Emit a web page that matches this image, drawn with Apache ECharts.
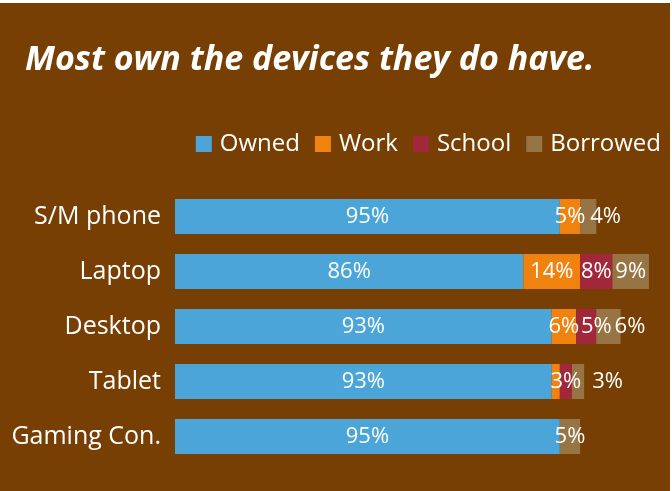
<!DOCTYPE html>
<html>
<head>
<meta charset="utf-8">
<script src="https://cdn.jsdelivr.net/npm/echarts@6/dist/echarts.min.js"></script>
<style>
  html, body { margin: 0; padding: 0; background: #ffffff; }
  #chart { position: absolute; left: 0; top: 3px; width: 670px; height: 488px; }
</style>
</head>
<body>
<div id="chart"></div>
<script>
// Device ownership breakdown (percent)
const devices = ['S/M phone', 'Laptop', 'Desktop', 'Tablet', 'Gaming Con.']
const owned = [95, 86, 93, 93, 95]
const work = [5, 14, 6, 2, 0]
const school = [0, 8, 5, 3, 0]
const borrowed = [4, 9, 6, 3, 5]

// label placement for crowded segments (null = centred inside)
const workShown = [true, true, true, false, false]
const schoolPos = [null, null, 'insideLeft', null, null]
const borrowedPos = ['right', null, 'right', 'right', null]
const borrowedDist = [-6, 0, -6, 8, 0]

const chart = echarts.init( document.getElementById( 'chart' ) )

const makeData = ( values, opts ) => values.map( ( v, i ) => {
  const item = { value : v }
  if ( v === 0 || ( opts.shown && !opts.shown[i] ) ) {
    item.label = { show : false }
  } else if ( opts.pos && opts.pos[i] ) {
    item.label = {
      position : opts.pos[i],
      distance : opts.dist ? opts.dist[i] : 5
    }
  }
  return item
} )

const makeSeries = ( name, values, color, opts = {} ) => ( {
  name : name,
  type : 'bar',
  stack : 'total',
  barWidth : 35,
  data : makeData( values, opts ),
  itemStyle : { color : color },
  label : {
    show : true,
    position : 'inside',
    formatter : '{c}%',
    color : '#ffffff',
    fontFamily : 'Open Sans',
    fontSize : 22
  }
} )

chart.setOption( {
  backgroundColor : '#773f03',
  animation : false,
  title : {
    text : 'Most own the devices they do have.',
    left : 20,
    top : 35,
    textStyle : {
      color : '#ffffff',
      fontFamily : 'Open Sans',
      fontStyle : 'italic',
      fontWeight : 'bold',
      fontSize : 34
    }
  },
  legend : {
    data : ['Owned', 'Work', 'School', 'Borrowed'],
    right : 4,
    top : 124,
    itemWidth : 16,
    itemHeight : 16,
    itemGap : 15,
    icon : 'rect',
    textStyle : {
      color : '#ffffff',
      fontFamily : 'Open Sans',
      fontSize : 24,
      padding : [0, 0, 0, 3]
    }
  },
  grid : {
    left : 175,
    right : 17,
    top : 186,
    bottom : 27
  },
  xAxis : {
    type : 'value',
    min : 0,
    max : 118,
    show : false
  },
  yAxis : {
    type : 'category',
    data : devices,
    inverse : true,
    axisLine : { show : false },
    axisTick : { show : false },
    axisLabel : {
      color : '#ffffff',
      fontFamily : 'Open Sans',
      fontSize : 25,
      margin : 14
    }
  },
  series : [
    makeSeries( 'Owned', owned, '#4ba5d9' ),
    makeSeries( 'Work', work, '#f0820f', { shown : workShown } ),
    makeSeries( 'School', school, '#a1283b', { pos : schoolPos } ),
    makeSeries( 'Borrowed', borrowed, '#977444', { pos : borrowedPos, dist : borrowedDist } )
  ]
} )
</script>
</body>
</html>
